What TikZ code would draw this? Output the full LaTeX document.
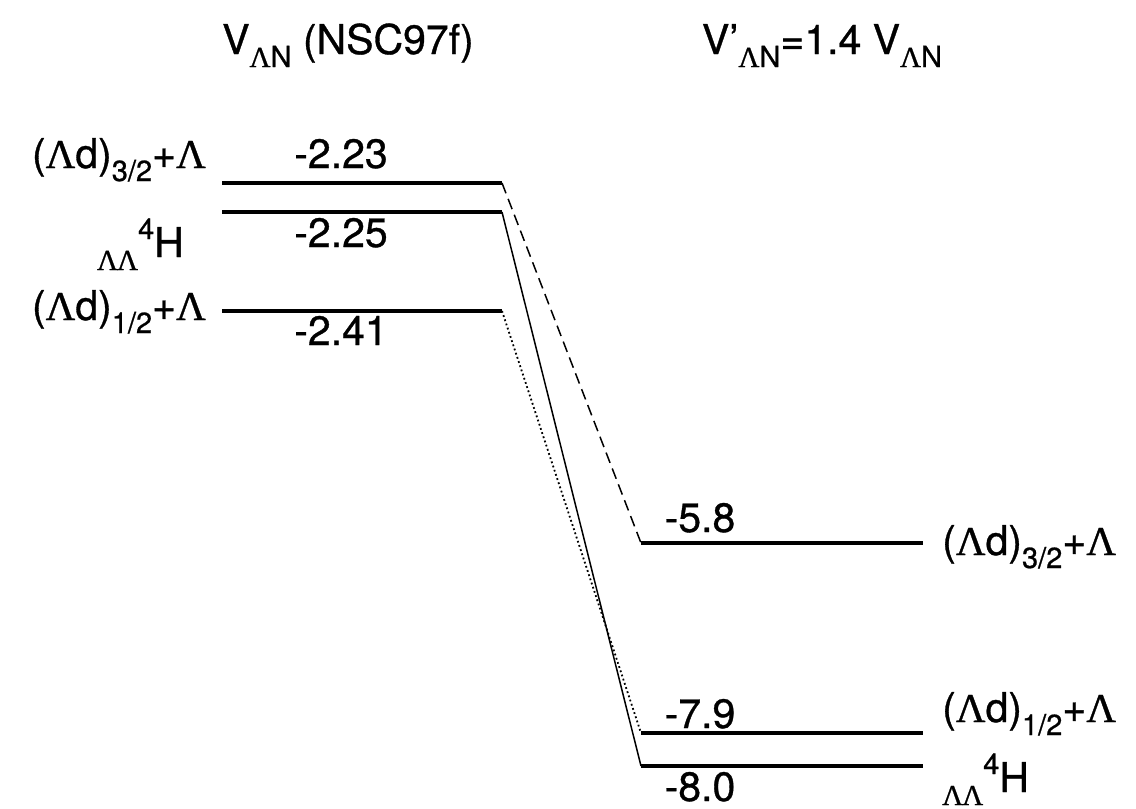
\documentclass[tikz,border=0pt]{standalone}
\usepackage{fontspec}
\setmainfont{TeX Gyre Heros}[FakeBold=0.8]
\newfontfamily\lamfont{Liberation Serif}[FakeBold=0.8]
\newcommand{\Lam}{{\lamfont Λ}}
\newcommand{\mysub}[1]{\raisebox{-13pt}{\fontsize{29}{33}\selectfont #1}}
\newcommand{\mysup}[1]{\raisebox{18pt}{\fontsize{29}{33}\selectfont #1}}
\newcommand{\LL}{\mysub{\Lam\kern-1pt\Lam}}
\tikzset{
  lvl/.style={line width=3.2pt},
  conn/.style={line width=1.5pt},
  dotconn/.style={line width=1.8pt, dash pattern=on 1.8pt off 2.6pt},
  txt/.style={inner sep=0pt, font=\fontsize{41}{48}\selectfont},
  ttl/.style={inner sep=0pt, font=\fontsize{41}{48}\selectfont}
}
\begin{document}
\begin{tikzpicture}[x=1pt,y=-1pt]
\useasboundingbox (0,0) rectangle (1136,809);
% level end points
\coordinate (La1) at (222,183); \coordinate (Lb1) at (502,183);
\coordinate (La2) at (222,212); \coordinate (Lb2) at (502,212);
\coordinate (La3) at (222,311); \coordinate (Lb3) at (502,311);
\coordinate (Ra1) at (641,543); \coordinate (Rb1) at (923,543);
\coordinate (Ra2) at (641,733); \coordinate (Rb2) at (923,733);
\coordinate (Ra3) at (641,766); \coordinate (Rb3) at (923,766);
\draw[lvl] (La1) -- (Lb1);
\draw[lvl] (La2) -- (Lb2);
\draw[lvl] (La3) -- (Lb3);
\draw[lvl] (Ra1) -- (Rb1);
\draw[lvl] (Ra2) -- (Rb2);
\draw[lvl] (Ra3) -- (Rb3);
\draw[conn, dash pattern=on 11pt off 6pt] (Lb1) -- (Ra1);
\draw[conn] (Lb2) -- (Ra3);
\draw[dotconn] (Lb3) -- (Ra2);
% titles
\node[ttl, anchor=base] (t1) at (348,54) {V\mysub{\Lam N} (NSC97f)};
\node[ttl, anchor=base] (t2) at (822,54) {V'\mysub{\Lam N}=1.4 V\mysub{\Lam N}};
% energies
\node[txt, anchor=base] (e1) at (341,168) {-2.23};
\node[txt, anchor=base] (e2) at (341,247) {-2.25};
\node[txt, anchor=base] (e3) at (341,345) {-2.41};
\node[txt, anchor=base] (e4) at (700,532) {-5.8};
\node[txt, anchor=base] (e5) at (700,728) {-7.9};
\node[txt, anchor=base] (e6) at (700,801) {-8.0};
% left labels
\node[txt, anchor=base east] (l1) at (206,168) {(\Lam d)\mysub{3/2}+\Lam};
\node[txt, anchor=base east] (l2) at (184,257) {\LL\mysup{4}H};
\node[txt, anchor=base east] (l3) at (206,320) {(\Lam d)\mysub{1/2}+\Lam};
% right labels
\node[txt, anchor=base west] (r1) at (942,555) {(\Lam d)\mysub{3/2}+\Lam};
\node[txt, anchor=base west] (r2) at (942,722) {(\Lam d)\mysub{1/2}+\Lam};
\node[txt, anchor=base west] (r3) at (942,792) {\LL\mysup{4}H};
\end{tikzpicture}
\end{document}
